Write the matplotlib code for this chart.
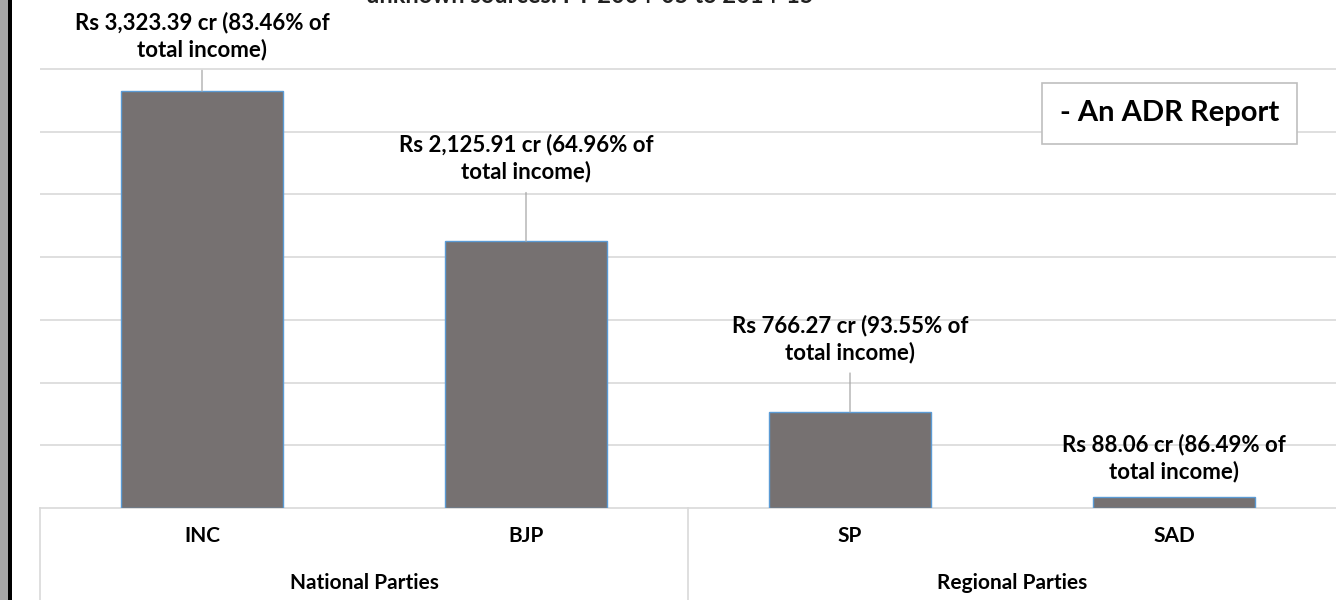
import matplotlib.pyplot as plt
import matplotlib.patches as mpatches
from matplotlib.lines import Line2D

plt.rcParams['font.family'] = ['Lato', 'DejaVu Sans']
plt.rcParams['font.weight'] = 'bold'

# data
parties = ["INC", "BJP", "SP", "SAD"]
income_cr = [3323.39, 2125.91, 766.27, 88.06]
share_pct = [83.46, 64.96, 93.55, 86.49]
groups = ["National Parties", "Regional Parties"]
group_spans = [(0, 1), (2, 3)]
grid_vals = [500, 1000, 1500, 2000, 2500, 3000, 3500]

# label placement (pixels above bar top), leader line on/off
lbl_dy = [55, 83, 73, 39]
lbl_leader = [True, True, True, False]

fig = plt.figure(figsize=(13.36, 6), dpi=100)
W, H = 1336.0, 600.0
ax = fig.add_axes([40 / W, 1 - 508 / H, 1 - 40 / W, (508 - 6.4) / H])

x = range(len(parties))
ax.bar(x, income_cr, width=0.5, color="#767171", edgecolor="#5B9BD5", linewidth=1.0, zorder=3)
ax.set_xlim(-0.5, 3.5)
ax.set_ylim(0, 4000)
ax.set_yticks(grid_vals)
ax.yaxis.grid(True, color="#D9D9D9", linewidth=1.2)
ax.tick_params(axis="y", length=0, labelleft=False)
ax.set_xticks(list(x))
ax.set_xticklabels(parties, fontsize=15, fontweight="bold")
ax.tick_params(axis="x", length=0, pad=13)
for s in ["top", "right", "left"]:
    ax.spines[s].set_visible(False)
ax.spines["bottom"].set_color("#D9D9D9")
ax.spines["bottom"].set_linewidth(1.2)

for i, (v, p) in enumerate(zip(income_cr, share_pct)):
    txt = "Rs {:,.2f} cr ({:.2f}% of\ntotal income)".format(v, p)
    ap = dict(arrowstyle="-", color="#A6A6A6", lw=0.9, shrinkA=5, shrinkB=0) if lbl_leader[i] else None
    ax.annotate(txt, xy=(i, v), xytext=(0, lbl_dy[i]), textcoords="offset pixels",
                ha="center", va="center", fontsize=16, fontweight="bold",
                linespacing=1.3, arrowprops=ap, zorder=4)

# category table below the axis
depth = -92 / (508 - 6.4)
for xa in [0.0, 0.5]:
    ax.add_line(Line2D([xa, xa], [0, depth], transform=ax.transAxes, color="#D9D9D9",
                       lw=1.2, clip_on=False))
for g, (a, b) in zip(groups, group_spans):
    ax.text((a + b) / 2, -75 / (508 - 6.4), g, transform=ax.get_xaxis_transform(),
            ha="center", va="center", fontsize=15, fontweight="bold")

# report tag box
fig.text((1034 + 1305) / 2 / W, 1 - 113 / H, "- An ADR Report", ha="center", va="center",
         fontsize=21, fontweight="bold",
         bbox=dict(boxstyle="square,pad=0.6", facecolor="white", edgecolor="#BFBFBF", lw=1.2))

# title cut off at top of the crop
fig.text(590 / W, 1 - 3 / H, "unknown sources: FY 2004-05 to 2014-15", ha="center",
         va="baseline", fontsize=17, fontweight="bold", color="#202020")

# window frame on the left
fig.add_artist(mpatches.Rectangle((0, 0), 8 / W, 1, transform=fig.transFigure,
                                  facecolor="#A6A6A6", edgecolor="none"))
fig.add_artist(mpatches.Rectangle((8 / W, 0), 3.5 / W, 1, transform=fig.transFigure,
                                  facecolor="black", edgecolor="none"))

fig.savefig("out.png", dpi=100)
